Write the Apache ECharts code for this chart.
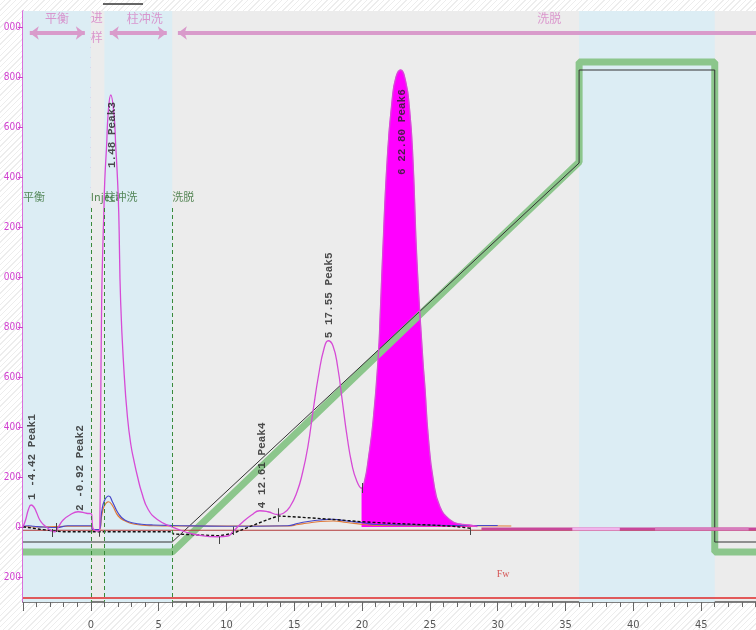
<!DOCTYPE html>
<html><head><meta charset="utf-8">
<script src="https://cdn.jsdelivr.net/npm/echarts@6/dist/echarts.min.js"></script>
<style>
html,body{margin:0;padding:0;}
body{background: repeating-linear-gradient(135deg,#ffffff 0px,#ffffff 3px,#ededed 3px,#ededed 4px);}
#c{width:756px;height:630px;}
</style></head><body><div id="c"></div>
<script>
// ---- axis ticks ----
const xTickValues = [0,5,10,15,20,25,30,35,40,45];
const xTickLabels = ['0','5','10','15','20','25','30','35','40','45'];
const yTickValues = [-200,0,200,400,600,800,1000,1200,1400,1600,1800,2000];
const yTickLabels = ['200','0','200','400','600','800','000','200','400','600','800','000'];

// ---- phases ----
const bluePhases = [[-5,0],[1,6],[36,46]];
const phaseNames = ['平衡','柱冲洗','洗脱'];
const phaseNameX = [-2.5,3.98,33.8];
const phaseArrows = [[-4.5,-0.44],[1.4,5.6],[6.42,50]];
const eventNames = ['平衡','Inject','柱冲洗','洗脱'];
const eventX = [-5,0,1,6];

// ---- traces ----
const gradient = [[-5,-100],[6,-100],[36,1460],[36,1860],[46,1860],[46,-100],[50,-100]];
const conc = [[-5,-60],[6,-60],[36,1456],[36,1828],[46,1828],[46,-60],[50,-60]];
const uv280 = [
[-5,0],[-4.8,30],[-4.6,70],[-4.4,88],[-4.2,80],[-4.0,58],[-3.76,28],[-3.5,10],[-3.27,0],[-3.0,-12],[-2.65,-19],[-2.35,4],[-2.04,28],[-1.55,48],[-0.94,61],[-0.32,55],[0.05,52],[0.1,20],[0.15,-4],[0.59,-16],[0.66,0],[0.72,400],[0.8,900],[0.9,1150],[0.96,1255],[1.03,1388],[1.16,1521],[1.28,1655],[1.47,1728],[1.70,1655],[1.84,1521],[1.97,1388],[2.06,1255],[2.2,900],[2.45,620],[2.7,440],[2.95,330],[3.2,260],[3.45,200],[3.74,140],[4.23,70],[4.96,28],[5.95,1],[6.93,-19],[7.9,-32],[9.37,-39],[10.1,-36],[10.47,-19],[11.1,15],[11.85,48],[12.46,65],[13.05,61],[13.79,50],[14.2,55],[14.68,81],[15.2,140],[15.6,215],[16.0,320],[16.4,470],[16.8,610],[17.2,715],[17.5,745],[17.85,725],[18.2,640],[18.55,500],[18.9,360],[19.25,250],[19.6,185],[19.96,155],[20.2,188],[20.45,268],[20.82,428],[21.19,680],[21.35,868],[21.5,1068],[21.85,1468],[22.2,1700],[22.5,1800],[22.84,1828],[23.2,1785],[23.5,1670],[23.75,1468],[24.04,1068],[24.48,668],[24.63,561],[24.88,361],[25.25,188],[25.74,81],[26.5,28],[27.2,12],[27.9,8],[28.5,2]
];
const peak6Range = [19.96, 28.5];
const uvBlue = [[-5,3],[-4.6,5],[-4.2,3],[-3.5,0],[-2.5,-2],[-1.7,5],[0.07,5],[0.1,-10],[0.6,-10],[0.8,60],[1.0,105],[1.33,124],[1.6,100],[2.02,55],[2.5,28],[3.24,15],[3.74,11],[4.6,8],[6,6],[10,3],[14.5,5],[15.3,15],[15.9,21],[16.9,28],[17.86,31],[18.86,24],[20.08,17],[21,10],[24,8],[27.5,6],[30,6]];
const uvOrange = [[-5,2],[-3.5,0],[-1.7,3],[0.07,3],[0.1,-10],[0.6,-12],[0.8,45],[1.0,85],[1.3,101],[1.6,85],[2.02,44],[2.5,25],[3.24,11],[4.6,5],[6,4],[14.5,4],[15.3,10],[15.9,15],[16.9,22],[17.86,24],[18.86,18],[20.08,10],[21,6],[31,4]];
const baseline = [[-5,1],[-3.76,-9],[-2.78,-15],[-2.1,-19],[6.0,-19],[6.07,-28],[8.04,-32],[9.5,-35],[10.5,-25],[11.7,1],[12.96,28],[13.8,44],[14.9,41],[16.6,35],[18.4,28],[20.0,21],[22,15],[25,8],[26.7,3],[28,-5]];
const darkRed = [[-5,-13],[50,-13]];
const fwLine = [[-5,-284],[50,-284]];
const fraction = [[28.8,-8],[50,-8]];
const fractionPale = [[35.5,-8],[39,-8]];
const fractionMid = [[41.6,-8],[48.5,-8]];
const peakCuts = [[-2.88,-8,-40],[-2.55,16,-20],[0.6,-19,-39],[9.5,-39,-68],[10.47,1,-32],[13.8,75,21],[20.0,176,136],[28.0,-1,-32]];

// ---- peak labels ----
const peakNames = ['1 -4.42 Peak1','2 -0.92 Peak2','1.48 Peak3','4 12.61 Peak4','5 17.55 Peak5','6 22.80 Peak6'];
const peakLabelX = [-4.35,-0.81,1.55,12.66,17.57,22.96];
const peakLabelY = [108,64,1436,75,755,1408];

const chart = echarts.init(document.getElementById('c'), null, {renderer:'canvas'});

const yMinor = [];
for (let v = -280; v <= 2040; v += 40) if (v % 200 !== 0) yMinor.push(v);

const lineS = (name, data, color, width, extra) => Object.assign({
  name, type:'line', data, showSymbol:false, symbol:'none', clip:true,
  lineStyle:{color, width}, itemStyle:{color}, animation:false, silent:true
}, extra || {});

const peak6 = uv280.filter(p => p[0] >= peak6Range[0] && p[0] <= peak6Range[1]);

const option = {
  animation:false,
  backgroundColor:'transparent',
  grid:{left:23, right:-13, top:11, bottom:28, show:true, backgroundColor:'#ececec', borderWidth:0, outerBoundsMode:'none', containLabel:false},
  xAxis:{type:'value', min:-5, max:50, interval:5,
    axisLine:{show:true, onZero:false, lineStyle:{color:'#555', width:1.5}},
    axisTick:{show:true, length:9, lineStyle:{color:'#666'}},
    minorTick:{show:true, splitNumber:5, length:5, lineStyle:{color:'#666'}},
    splitLine:{show:false}, minorSplitLine:{show:false},
    axisLabel:{margin:18, color:'#555', fontSize:11, fontFamily:'Liberation Sans Narrow, DejaVu Sans Condensed, sans-serif',
      formatter:v => { const i = xTickValues.indexOf(v); return i >= 0 ? xTickLabels[i] : ''; }}
  },
  yAxis:[
    {type:'value', min:-300, max:2064, position:'left',
     axisLine:{show:true, onZero:false, lineStyle:{color:'#d13fd1', width:1.5}},
     axisTick:{show:true, length:5, customValues:yTickValues, lineStyle:{color:'#d13fd1'}},
     axisLabel:{customValues:yTickValues, margin:2, color:'#d13fd1', fontSize:10,
       fontFamily:'Liberation Sans Narrow, DejaVu Sans Condensed, sans-serif',
       formatter:v => { const i = yTickValues.indexOf(v); return i >= 0 ? yTickLabels[i] : ''; }},
     splitLine:{show:false}},
    {type:'value', min:-300, max:2064, position:'left', offset:0,
     axisLine:{show:false},
     axisTick:{show:true, length:3, customValues:yMinor, lineStyle:{color:'#d13fd1'}},
     axisLabel:{show:false}, splitLine:{show:false}}
  ],
  graphic:[{type:'line', shape:{x1:103,y1:4,x2:143,y2:4}, style:{stroke:'#333', lineWidth:1.5}, silent:true}],
  series:[
    lineS('phases', [], '#000', 0, {
      markArea:{silent:true, itemStyle:{color:'#dcedf4'},
        data: bluePhases.map(p => [{xAxis:p[0]},{xAxis:p[1]}])}
    }),
    lineS('fw', fwLine, '#e02828', 1.5),
    lineS('gradient', gradient, '#8cc68c', 7),
    lineS('conc', conc, '#333333', 1),
    lineS('darkRed', darkRed, '#b23a3a', 1),
    lineS('fraction', fraction, '#c8479a', 3),
    lineS('fractionPale', fractionPale, '#f0b4ec', 3),
    lineS('fractionMid', fractionMid, '#d77dbd', 3),
    lineS('uvOrange', uvOrange, '#e07b39', 1.2, {smooth:0.5}),
    lineS('uvBlue', uvBlue, '#4848c8', 1.2, {smooth:0.5}),
    lineS('baseline', baseline, '#111', 1.4, {lineStyle:{color:'#111', width:1.4, type:[3,2]}}),
    lineS('peak6', peak6, '#ff00ff', 0.5, {smooth:0.5, areaStyle:{color:'#ff00ff', opacity:1}}),
    lineS('uv280', uv280, '#d64bd6', 1.3, {smooth:0.5}),
    lineS('marks', [], '#000', 0, {
      markLine:{silent:true, symbol:['none','none'], animation:false, label:{show:false},
        data:[].concat(
          peakCuts.map(c => [{coord:[c[0],c[1]], lineStyle:{color:'#444', width:1, type:'solid'}},{coord:[c[0],c[2]]}]),
          eventX.slice(1).map(x => [{coord:[x,1276], lineStyle:{color:'#3a8a3a', width:1, type:[4,3]}},{coord:[x,-299]}])
        )}
    }),
    lineS('arrows', [], '#000', 0, {
      markLine:{silent:true, symbol:['arrow','arrow'], symbolSize:[10,9], animation:false, label:{show:false},
        lineStyle:{color:'#d99bcb', width:4, type:'solid'},
        data: phaseArrows.map(a => [{coord:[a[0],1976]},{coord:[a[1],1976]}])}
    }),
    {type:'scatter', name:'phaseText', symbolSize:0, silent:true, animation:false,
      data: phaseNames.map((n,i) => ({name:n, value:[phaseNameX[i],2036]})).concat([{name:'进\n样', value:[0.44,2000]}]),
      label:{show:true, position:'inside', formatter:'{b}', color:'#d67fc4', fontSize:12, lineHeight:20,
        fontFamily:'Noto Sans CJK SC', align:'center', verticalAlign:'middle'}},
    {type:'scatter', name:'eventText', symbolSize:0, silent:true, animation:false,
      data: eventNames.map((n,i) => ({name:n, value:[eventX[i],1320]})),
      label:{show:true, position:'inside', formatter:'{b}', color:'#2e6b2e', fontSize:11,
        fontFamily:'Noto Sans CJK SC', align:'left', verticalAlign:'middle'}},
    {type:'scatter', name:'peakText', symbolSize:0, silent:true, animation:false, z:5,
      data: peakNames.map((n,i) => ({name:n, value:[peakLabelX[i],peakLabelY[i]]})),
      label:{show:true, position:'inside', formatter:'{b}', color:'#222', fontSize:11, rotate:90, fontWeight:'bold',
        fontFamily:'Liberation Mono, monospace', align:'left', verticalAlign:'middle'}},
    {type:'scatter', name:'fwText', symbolSize:0, silent:true, animation:false,
      data:[{name:'Fw', value:[30.4,-188]}],
      label:{show:true, position:'inside', formatter:'{b}', color:'#d03030', fontSize:10,
        fontFamily:'Liberation Serif', align:'center', verticalAlign:'middle'}}
  ]
};
chart.setOption(option);
</script></body></html>
